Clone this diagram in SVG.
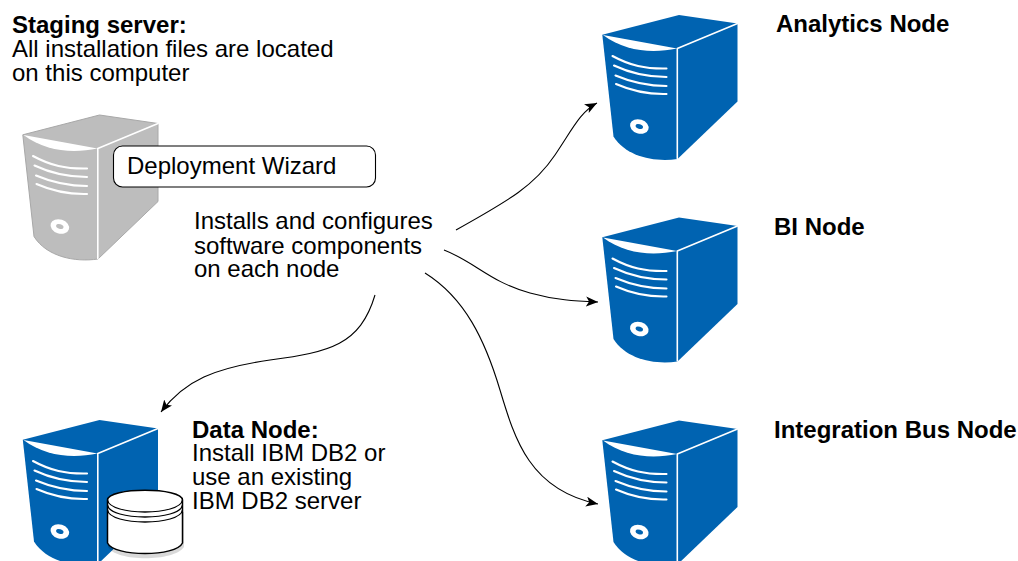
<svg xmlns="http://www.w3.org/2000/svg" width="1018" height="561" viewBox="0 0 1018 561">
<style>
text{font-family:"Liberation Sans",Arial,sans-serif;font-size:24px;fill:#000}
.b{font-weight:700}
.c{fill:none;stroke:#000;stroke-width:1.1}
.l{fill:none;stroke:#fff;stroke-linecap:round}
</style>
<defs>
<marker id="a" markerUnits="userSpaceOnUse" markerWidth="14" markerHeight="12" refX="12" refY="5" orient="auto"><path d="M0 0L12 5L0 10L3 5Z" fill="#000"/></marker>
<g id="srv">
<path d="M12.3 29.3L89 9.500L147.500 18V96L87.500 153.500C64 157 36 151 23.500 131Z"/>
<path d="M13 29.500C35 46 62 48 87 43Z" fill="#fff"/>
<path class="l" stroke-width="1.600" d="M87.300 43V153M87.300 43L147.500 18"/>
<path class="l" stroke-width="2.100" d="M22.500 50.500C40 60 55 63.500 76.500 63M24 60C41 68 56 71.500 76.500 71.500M25.500 70C42 77 57 80.500 76.500 80.500M26 78.500C43 86 58 89 76.500 88.500"/>
<ellipse cx="49.300" cy="121" rx="9.500" ry="7" fill="#fff" transform="rotate(18 49.300 121)"/>
<ellipse cx="49.300" cy="121" rx="3.800" ry="2.300" transform="rotate(18 49.300 121)"/>
</g>
</defs>
<g id="staging-server" transform="translate(10.500 105.500)" fill="#bdbdbd">
<path d="M12.3 29.3L89 9.500L147.500 18V96L87.500 153.500C64 157 36 151 23.500 131Z" stroke="#a8a8a8"/>
<path d="M13 29.500C35 46 62 48 87 43Z" fill="#fff"/>
<path class="l" stroke-width="1.600" d="M87.300 43V153M87.300 43L147.500 18"/>
<path class="l" stroke-width="2.100" d="M22.500 50.500C40 60 55 63.500 76.500 63M24 60C41 68 56 71.500 76.500 71.500M25.500 70C42 77 57 80.500 76.500 80.500M26 78.500C43 86 58 89 76.500 88.500"/>
<ellipse cx="49.300" cy="121" rx="9.500" ry="7" fill="#fff" transform="rotate(18 49.300 121)"/>
<ellipse cx="49.300" cy="121" rx="3.800" ry="2.300" transform="rotate(18 49.300 121)"/>
</g>
<g id="staging-label">
<text class="b" x="12" y="33">Staging server:</text>
<text x="12" y="57">All installation files are located</text>
<text x="12" y="81">on this computer</text>
</g>
<g id="deployment-wizard">
<rect x="113.500" y="146" width="262" height="41" rx="9" fill="#fff" stroke="#000" stroke-width="1.100"/>
<text x="127" y="174">Deployment Wizard</text>
</g>
<g id="installs-label">
<text x="194" y="229">Installs and configures</text>
<text x="194" y="254">software components</text>
<text x="194" y="277">on each node</text>
</g>
<g id="connectors">
<path class="c" marker-end="url(#a)" d="M456 230C510 200 535 185 555 155C572 130 580 112 597 103"/>
<path class="c" marker-end="url(#a)" d="M444 250C475 262 490 282 530 293C555 300 575 301 598 302"/>
<path class="c" marker-end="url(#a)" d="M425 273C465 298 485 340 500 390C515 440 530 490 598 504"/>
<path class="c" marker-end="url(#a)" d="M375 295C360 345 330 352 270 360C215 368 185 380 161 412"/>
</g>
<g id="analytics-node" fill="#0063b1">
<use href="#srv" transform="translate(590 5.500)"/>
<text class="b" x="776" y="32">Analytics Node</text>
</g>
<g id="bi-node" fill="#0063b1">
<use href="#srv" transform="translate(590 208)"/>
<text class="b" x="774" y="235">BI Node</text>
</g>
<g id="integration-bus-node" fill="#0063b1">
<use href="#srv" transform="translate(590 411)"/>
<text class="b" x="774" y="438">Integration Bus Node</text>
</g>
<g id="data-node" fill="#0063b1">
<use href="#srv" transform="translate(10.500 410.500)"/>
<path d="M108 510V545C116 560 174 560 184 545V510Z" fill="#000" opacity=".15" transform="translate(0 2)"/>
<path d="M107.500 500C107.500 487 182.500 487 182.500 500V543C176 557 114 557 107.500 543Z" fill="#fff" stroke="#000" stroke-width="1.500"/>
<path d="M107.500 500C110 516 180 516 182.500 500M107.500 505C110 521 180 521 182.500 505M107.500 510C110 526 180 526 182.500 510" fill="none" stroke="#000" stroke-width="1.300"/>
<text class="b" x="192" y="438">Data Node:</text>
<text x="192" y="461">Install IBM DB2 or</text>
<text x="192" y="485">use an existing</text>
<text x="192" y="509">IBM DB2 server</text>
</g>
</svg>
